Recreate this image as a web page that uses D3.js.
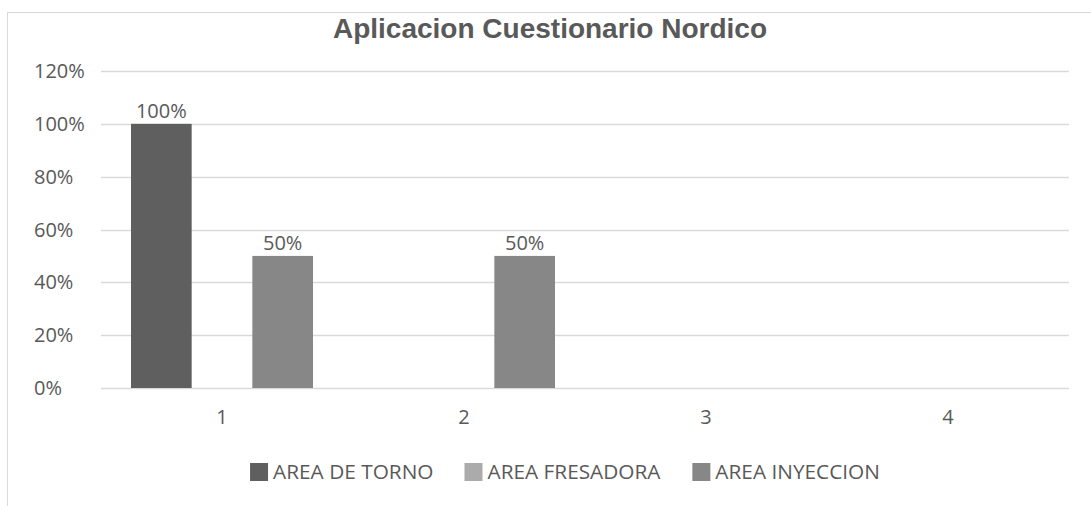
<!DOCTYPE html>
<html>
<head>
<meta charset="utf-8">
<script src="https://cdn.jsdelivr.net/npm/d3@7"></script>
<style>
  body { margin: 0; background: #fff; }
  svg { display: block; }
  text { font-family: "Open Sans", sans-serif; fill: #595959; }
</style>
</head>
<body>
<svg id="chart" width="1091" height="506"></svg>
<script>
"use strict";

const WIDTH = 1091;
const HEIGHT = 506;

const TITLE = "Aplicacion Cuestionario Nordico";
const CATEGORIES = ["1", "2", "3", "4"];
const SERIES = ["AREA DE TORNO", "AREA FRESADORA", "AREA INYECCION"];
const COLORS = ["#5f5f5f", "#ababab", "#878787"];
const TORNO = [1, 0, 0, 0];
const FRESADORA = [0, 0, 0, 0];
const INYECCION = [0.5, 0.5, 0, 0];
const Y_TICKS = [0, 0.2, 0.4, 0.6, 0.8, 1.0, 1.2];

const PLOT = { LEFT: 101, RIGHT: 1069, TOP: 71, BOTTOM: 388 };

const svg = d3.select("#chart");

// chart area frame (only top and left edges are visible in the picture)
svg.append("rect")
  .attr("x", 7.5).attr("y", 12.5)
  .attr("width", WIDTH + 20).attr("height", HEIGHT + 20)
  .attr("fill", "none").attr("stroke", "#d9d9d9");

svg.append("text")
  .attr("x", 550).attr("y", 38)
  .attr("text-anchor", "middle")
  .style("font-family", "'Liberation Sans', Arial, sans-serif")
  .style("font-weight", "bold")
  .style("font-size", "28px")
  .text(TITLE);

const x0 = d3.scaleBand().domain(CATEGORIES)
  .range([PLOT.LEFT, PLOT.RIGHT])
  .paddingInner(0.248).paddingOuter(0.124);
const x1 = d3.scaleBand().domain(SERIES).range([0, x0.bandwidth()]);
const y = d3.scaleLinear().domain([0, 1.2]).range([PLOT.BOTTOM, PLOT.TOP]);

// gridlines
svg.append("g").selectAll("line").data(Y_TICKS).join("line")
  .attr("x1", PLOT.LEFT).attr("x2", PLOT.RIGHT)
  .attr("y1", d => Math.round(y(d)) + 0.5).attr("y2", d => Math.round(y(d)) + 0.5)
  .attr("stroke", "#d9d9d9").attr("stroke-width", 1.3);

// y tick labels (left aligned as in the source)
svg.append("g").selectAll("text").data(Y_TICKS).join("text")
  .attr("x", 34).attr("y", d => y(d))
  .attr("dy", "0.35em")
  .style("font-size", "20px")
  .text(d => d3.format(".0%")(d));

// x labels
const xAxis = d3.axisBottom(x0).tickSize(0).tickPadding(0);
const gx = svg.append("g").attr("transform", `translate(0,${PLOT.BOTTOM + 22})`).call(xAxis);
gx.select(".domain").remove();
gx.selectAll("text").style("font-size", "20px").style("font-family", "'Open Sans', sans-serif")
  .attr("fill", "#595959").attr("dy", "0.71em");

const values = [TORNO, FRESADORA, INYECCION];
const rows = [];
CATEGORIES.forEach((c, i) => {
  SERIES.forEach((s, j) => rows.push({ cat: c, series: s, idx: j, value: values[j][i] }));
});

svg.append("g").selectAll("rect").data(rows.filter(d => d.value > 0)).join("rect")
  .attr("x", d => x0(d.cat) + x1(d.series))
  .attr("y", d => y(d.value))
  .attr("width", x1.bandwidth())
  .attr("height", d => y(0) - y(d.value))
  .attr("fill", d => COLORS[d.idx]);

svg.append("g").selectAll("text").data(rows.filter(d => d.value > 0)).join("text")
  .attr("x", d => x0(d.cat) + x1(d.series) + x1.bandwidth() / 2)
  .attr("y", d => y(d.value) - 6)
  .attr("text-anchor", "middle")
  .style("font-size", "20px")
  .text(d => d3.format(".0%")(d.value));

// legend
const LEGEND_Y = 472;
const SWATCH = 18;
const legend = svg.append("g");
const items = legend.selectAll("g").data(SERIES).join("g");
items.append("rect")
  .attr("width", SWATCH).attr("height", SWATCH)
  .attr("y", LEGEND_Y - SWATCH / 2)
  .attr("fill", (d, i) => COLORS[i]);
items.append("text")
  .attr("x", SWATCH + 5).attr("y", LEGEND_Y)
  .attr("dy", "0.35em")
  .style("font-size", "20.8px")
  .text(d => d);

let offset = 0;
const widths = [];
items.each(function () { widths.push(this.getBBox().width); });
const gap = 31;
const total = d3.sum(widths) + gap * (widths.length - 1);
let start = 565 - total / 2;
items.attr("transform", (d, i) => {
  const t = `translate(${start + offset},0)`;
  offset += widths[i] + gap;
  return t;
});
</script>
</body>
</html>
